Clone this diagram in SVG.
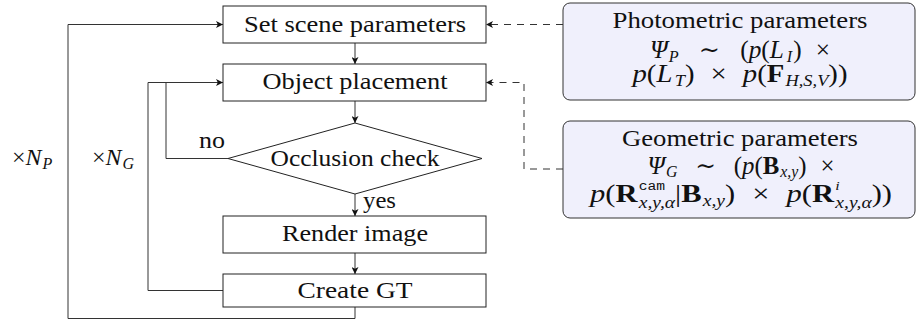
<svg xmlns="http://www.w3.org/2000/svg" width="916" height="320" viewBox="0 0 916 320" font-family="Liberation Serif, DejaVu Serif, serif">
  <style>
    .box{fill:#ffffff;stroke:#222;stroke-width:1}
    .param{fill:#f0f0fc;stroke:#333;stroke-width:1}
    .lbl{font-family:"Liberation Serif","DejaVu Serif",serif;font-size:24px;fill:#111;text-anchor:middle}
    .math{font-size:25px}
    .start{text-anchor:start}
    .it{font-style:italic}
    .bf{font-weight:bold}
    .sub{font-size:16px}
    .sup{font-size:13px}
    .tt{font-family:"Liberation Mono","DejaVu Sans Mono",monospace;font-size:12px}
    .conn{fill:none;stroke:#333;stroke-width:1}
    .dash{stroke-dasharray:7 6}
  </style>
  <defs>
    <marker id="arrow" markerUnits="userSpaceOnUse" markerWidth="8" markerHeight="7" refX="7" refY="3.5" orient="auto">
      <path d="M0,0 L7,3.5 L0,7 L1.8,3.5 z" fill="#111"/>
    </marker>
  </defs>

  <!-- flow connectors -->
  <g id="connectors">
    <path class="conn" d="M355,43 V64" marker-end="url(#arrow)"/>
    <path class="conn" d="M355,101 V123" marker-end="url(#arrow)"/>
    <path class="conn" d="M355,194 V216" marker-end="url(#arrow)"/>
    <path class="conn" d="M355,253 V274" marker-end="url(#arrow)"/>
    <!-- outer loop (×N_P) -->
    <path class="conn" d="M355,307 V318.5 H68 V24.5 H223" marker-end="url(#arrow)"/>
    <!-- inner loop (×N_G) -->
    <path class="conn" d="M223,290.5 H148 V82.5 H223" marker-end="url(#arrow)"/>
    <!-- occlusion "no" branch -->
    <path class="conn" d="M228,158.5 H166 V82.5"/>
    <!-- parameter inputs -->
    <path class="conn dash" d="M563,24.5 H486" marker-end="url(#arrow)"/>
    <path class="conn dash" d="M563,169 H524 V82.5 H486" marker-end="url(#arrow)"/>
  </g>

  <g id="set-scene">
    <rect class="box" x="223" y="6" width="263" height="37"/>
    <text class="lbl" x="355" y="32" textLength="222" lengthAdjust="spacingAndGlyphs">Set scene parameters</text>
  </g>

  <g id="object-placement">
    <rect class="box" x="223" y="64" width="263" height="37"/>
    <text class="lbl" x="355" y="89" textLength="185" lengthAdjust="spacingAndGlyphs">Object placement</text>
  </g>

  <g id="occlusion-check">
    <polygon class="box" points="355,123 482,158.5 355,194 228,158.5"/>
    <text class="lbl" x="355" y="166" textLength="169" lengthAdjust="spacingAndGlyphs">Occlusion check</text>
  </g>

  <g id="render-image">
    <rect class="box" x="223" y="216" width="263" height="37"/>
    <text class="lbl" x="355" y="241" textLength="146" lengthAdjust="spacingAndGlyphs">Render image</text>
  </g>

  <g id="create-gt">
    <rect class="box" x="223" y="274" width="263" height="33"/>
    <text class="lbl" x="355" y="298" textLength="115" lengthAdjust="spacingAndGlyphs">Create GT</text>
  </g>

  <g id="labels">
    <text class="lbl" x="212" y="148" textLength="26" lengthAdjust="spacingAndGlyphs">no</text>
    <text class="lbl start" x="363" y="208" textLength="33" lengthAdjust="spacingAndGlyphs">yes</text>
    <text class="lbl start" x="12" y="165">×<tspan class="it">N</tspan><tspan class="it sub" dx="1" dy="4">P</tspan></text>
    <text class="lbl start" x="92" y="165">×<tspan class="it">N</tspan><tspan class="it sub" dx="1" dy="4">G</tspan></text>
  </g>

  <g id="photometric">
    <rect class="param" x="563" y="3" width="352" height="97" rx="7"/>
    <text class="lbl" x="740" y="28" textLength="255" lengthAdjust="spacingAndGlyphs">Photometric parameters</text>
    <text class="lbl math" x="740" y="58" textLength="180" lengthAdjust="spacingAndGlyphs"><tspan class="it">Ψ</tspan><tspan class="it sub" dx="1" dy="4">P</tspan><tspan dy="-4" dx="20">∼</tspan><tspan dx="20">(</tspan><tspan class="it">p</tspan>(<tspan class="it">L</tspan><tspan class="it sub" dx="3" dy="4">I</tspan><tspan dy="-4" dx="1">)</tspan><tspan dx="14">×</tspan></text>
    <text class="lbl math" x="740" y="82" textLength="215" lengthAdjust="spacingAndGlyphs"><tspan class="it">p</tspan>(<tspan class="it">L</tspan><tspan class="it sub" dx="2" dy="4">T</tspan><tspan dy="-4">)</tspan><tspan dx="14">×</tspan><tspan dx="14" class="it">p</tspan>(<tspan class="bf">F</tspan><tspan class="it sub" dx="1" dy="4">H,S,V</tspan><tspan dy="-4">))</tspan></text>
  </g>

  <g id="geometric">
    <rect class="param" x="563" y="121" width="352" height="97" rx="7"/>
    <text class="lbl" x="740" y="146" textLength="236" lengthAdjust="spacingAndGlyphs">Geometric parameters</text>
    <text class="lbl math" x="741" y="174" textLength="187" lengthAdjust="spacingAndGlyphs"><tspan class="it">Ψ</tspan><tspan class="it sub" dx="1" dy="3">G</tspan><tspan dy="-3" dx="18">∼</tspan><tspan dx="18">(</tspan><tspan class="it">p</tspan>(<tspan class="bf">B</tspan><tspan class="it sub" dx="1" dy="3">x,y</tspan><tspan dy="-3">)</tspan><tspan dx="14">×</tspan></text>
    <text class="lbl math" x="741" y="202" textLength="302" lengthAdjust="spacingAndGlyphs"><tspan class="it">p</tspan>(<tspan class="bf">R</tspan><tspan class="tt" dx="1" dy="-12">cam</tspan><tspan class="it sub" dx="-21.6" dy="18">x,y,α</tspan><tspan dy="-6">|</tspan><tspan class="bf">B</tspan><tspan class="it sub" dx="1" dy="4">x,y</tspan><tspan dy="-4">)</tspan><tspan dx="14">×</tspan><tspan dx="14" class="it">p</tspan>(<tspan class="bf">R</tspan><tspan class="it sup" dx="1" dy="-12">i</tspan><tspan class="it sub" dx="-3.6" dy="18">x,y,α</tspan><tspan dy="-6">))</tspan></text>
  </g>
</svg>
